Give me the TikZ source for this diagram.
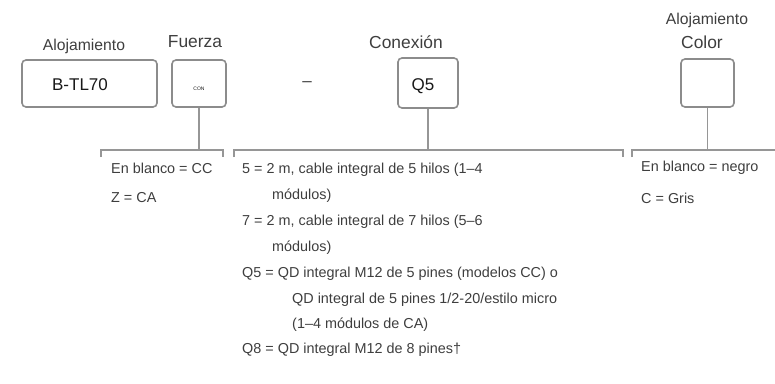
\documentclass[tikz,border=0pt]{standalone}
\usepackage{fontspec}
\setmainfont{Liberation Sans}
\usetikzlibrary{%
	calc,%
	positioning,%
}
\definecolor{cframe}{RGB}{140, 140, 140}
\definecolor{cline}{RGB}{150, 150, 150}
\definecolor{ctext}{RGB}{62, 62, 62}
\definecolor{ccode}{RGB}{25, 25, 25}
\tikzset{
	codebox/.style={%
			draw=cframe,%
			rectangle,%
			line width=1.6pt,%
			rounded corners=4pt,%
			fill=white,%
			inner sep=0},%
	codetext/.style={%
			text=ccode,%
			inner sep=0,%
			font=\fontsize{17}{20}\selectfont},%
	fieldname/.style={%
			text=ctext,%
			inner sep=0,%
			font=\fontsize{17.4}{20}\selectfont},%
	fieldsmall/.style={%
			fieldname,%
			font=\fontsize{15.7}{18}\selectfont},%
	optline/.style={%
			anchor=west,%
			text=ctext,%
			inner sep=0,%
			font=\fontsize{14.4}{17}\selectfont},%
	link/.style={%
			draw=cline,%
			line width=1.3pt},%
}

\begin{document}
\begin{tikzpicture}[x=1pt, y=-1pt]%
	\useasboundingbox (0,0) rectangle (775,383);

	% boxes of the model code
	\node[codebox, minimum width=135pt, minimum height=47pt] (hsg) at (89.5,83.5) {};
	\node[codebox, minimum width=54pt, minimum height=47pt] (frc) at (199,83.5) {};
	\node[codebox, minimum width=60pt, minimum height=50pt] (cnx) at (428,83) {};
	\node[codebox, minimum width=53pt, minimum height=48pt] (clr) at (707.5,83) {};

	\node[codetext] (hsgcode) at ($(hsg.center)+(-9.5,1.5)$) {B-TL70};
	\node[codetext, font=\fontsize{5}{6}\selectfont] (frccode) at ($(frc.center)+(0,5.5)$) {CON};
	\node[codetext] (cnxcode) at ($(cnx.center)+(-5,3)$) {Q5};
	\node[codetext, text=ctext] (dash) at (307,84) {--};

	% field names
	\node[fieldsmall] (hsgname) at (84,46) {Alojamiento};
	\node[fieldname] (frcname) at (195,42) {Fuerza};
	\node[fieldname] (cnxname) at (406,42) {Conexión};
	\node[fieldname] (clrname) at (702,42) {Color};
	\node[fieldsmall] (clrname2) at (707,20) {Alojamiento};

	% brackets
	\coordinate (b1l) at (101,150);
	\coordinate (b1r) at (223,150);
	\coordinate (b2l) at (234,150);
	\coordinate (b2r) at (623,150);
	\coordinate (b3l) at (632,150);
	\coordinate (b3r) at (775,150);
	\draw[link] ($(b1l)+(0,7)$) -- (b1l) -- (b1r) -- ($(b1r)+(0,7)$);
	\draw[link] ($(b2l)+(0,7)$) -- (b2l) -- (b2r) -- ($(b2r)+(0,7)$);
	\draw[link] ($(b3l)+(0,7)$) -- (b3l) -- (b3r);

	\draw[link] (frc.south) -- (frc.south |- b1l);
	\draw[link] (cnx.south) -- (cnx.south |- b2l);
	\draw[link] (clr.south) -- (clr.south |- b3l);

	% options
	\node[optline] (frc1) at (111,168) {En blanco = CC};
	\node[optline] (frc2) at (111,198) {Z = CA};

	\node[optline] (cnx1) at (242,170) {5 = 2 m, cable integral de 5 hilos (1--4};
	\node[optline] (cnx2) at (272,196) {módulos)};
	\node[optline] (cnx3) at (242,222) {7 = 2 m, cable integral de 7 hilos (5--6};
	\node[optline] (cnx4) at (272,248) {módulos)};
	\node[optline] (cnx5) at (242,274) {Q5 = QD integral M12 de 5 pines (modelos CC) o};
	\node[optline] (cnx6) at (292,300) {QD integral de 5 pines 1/2-20/estilo micro};
	\node[optline] (cnx7) at (292,325) {(1--4 módulos de CA)};
	\node[optline] (cnx8) at (242,350) {Q8 = QD integral M12 de 8 pines\textdagger};

	\node[optline] (clr1) at (641,168) {En blanco = negro};
	\node[optline] (clr2) at (641,198) {C = Gris};
\end{tikzpicture}
\end{document}
